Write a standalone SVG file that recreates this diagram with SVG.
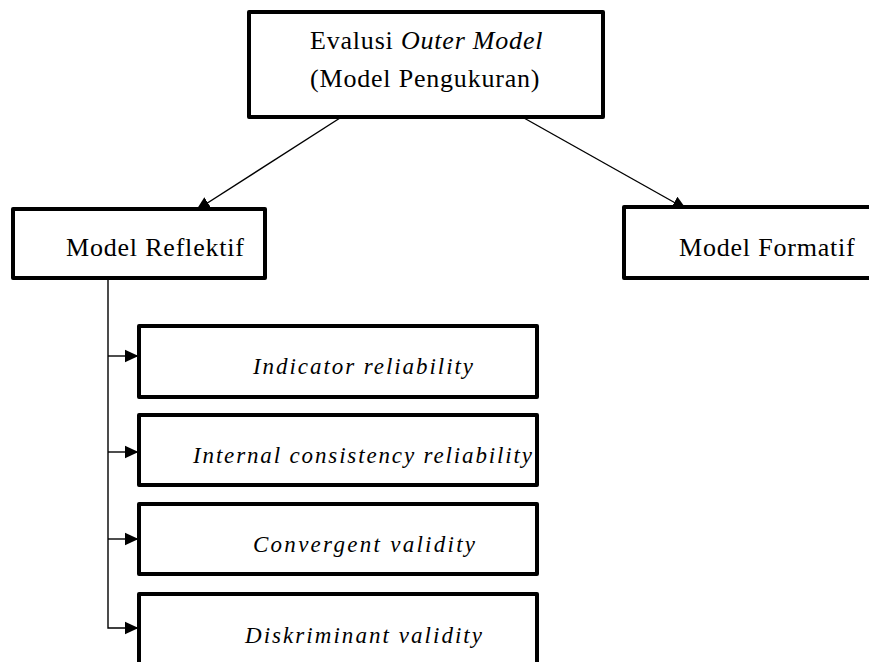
<svg xmlns="http://www.w3.org/2000/svg" width="869" height="662" viewBox="0 0 869 662">
  <style>
    .box { fill: #ffffff; stroke: #000000; stroke-width: 4; stroke-linejoin: round; }
    .head { font-family: "Liberation Serif", "Times New Roman", serif; font-size: 26px; fill: #000000; letter-spacing: 0.8px; }
    .item { font-family: "Liberation Serif", "Times New Roman", serif; font-size: 23px; font-style: italic; fill: #000000; }
    .conn { fill: none; stroke: #000000; stroke-width: 1.4; }
  </style>
  <defs>
    <marker id="arrow" markerUnits="userSpaceOnUse" markerWidth="14" markerHeight="14" viewBox="0 0 14 14" refX="13.5" refY="7" orient="auto">
      <path d="M0,0.5 L14,7 L0,13.5 z" fill="#000000"/>
    </marker>
  </defs>
  <rect x="0" y="0" width="869" height="662" fill="#ffffff"/>

  <g id="connectors">
    <line class="conn" x1="340" y1="118" x2="196.5" y2="210" marker-end="url(#arrow)"/>
    <line class="conn" x1="524" y1="118" x2="686" y2="209" marker-end="url(#arrow)"/>
    <path class="conn" d="M108,278 V628 H138" marker-end="url(#arrow)"/>
    <line class="conn" x1="108" y1="356" x2="138" y2="356" marker-end="url(#arrow)"/>
    <line class="conn" x1="108" y1="452" x2="138" y2="452" marker-end="url(#arrow)"/>
    <line class="conn" x1="108" y1="539" x2="138" y2="539" marker-end="url(#arrow)"/>
  </g>

  <g id="node-outer-model">
    <rect class="box" x="249" y="12" width="354" height="105"/>
    <text class="head" x="310" y="49">Evalusi <tspan font-style="italic">Outer Model</tspan></text>
    <text class="head" x="310" y="87" letter-spacing="0.9">(Model Pengukuran)</text>
  </g>

  <g id="node-reflektif">
    <rect class="box" x="13" y="209" width="252" height="69"/>
    <text class="head" x="66" y="256">Model Reflektif</text>
  </g>

  <g id="node-formatif">
    <rect class="box" x="624" y="207" width="260" height="71"/>
    <text class="head" x="679" y="256">Model Formatif</text>
  </g>

  <g id="node-indicator">
    <rect class="box" x="139" y="326" width="398" height="71"/>
    <text class="item" x="253" y="374" textLength="220" lengthAdjust="spacing">Indicator reliability</text>
  </g>

  <g id="node-internal">
    <rect class="box" x="139" y="415" width="398" height="70"/>
    <text class="item" x="193" y="463" textLength="339" lengthAdjust="spacing">Internal consistency reliability</text>
  </g>

  <g id="node-convergent">
    <rect class="box" x="139" y="504" width="398" height="70"/>
    <text class="item" x="253" y="552" textLength="222" lengthAdjust="spacing">Convergent validity</text>
  </g>

  <g id="node-diskriminant">
    <rect class="box" x="139" y="594" width="398" height="90"/>
    <text class="item" x="245" y="643" textLength="237" lengthAdjust="spacing">Diskriminant validity</text>
  </g>
</svg>
